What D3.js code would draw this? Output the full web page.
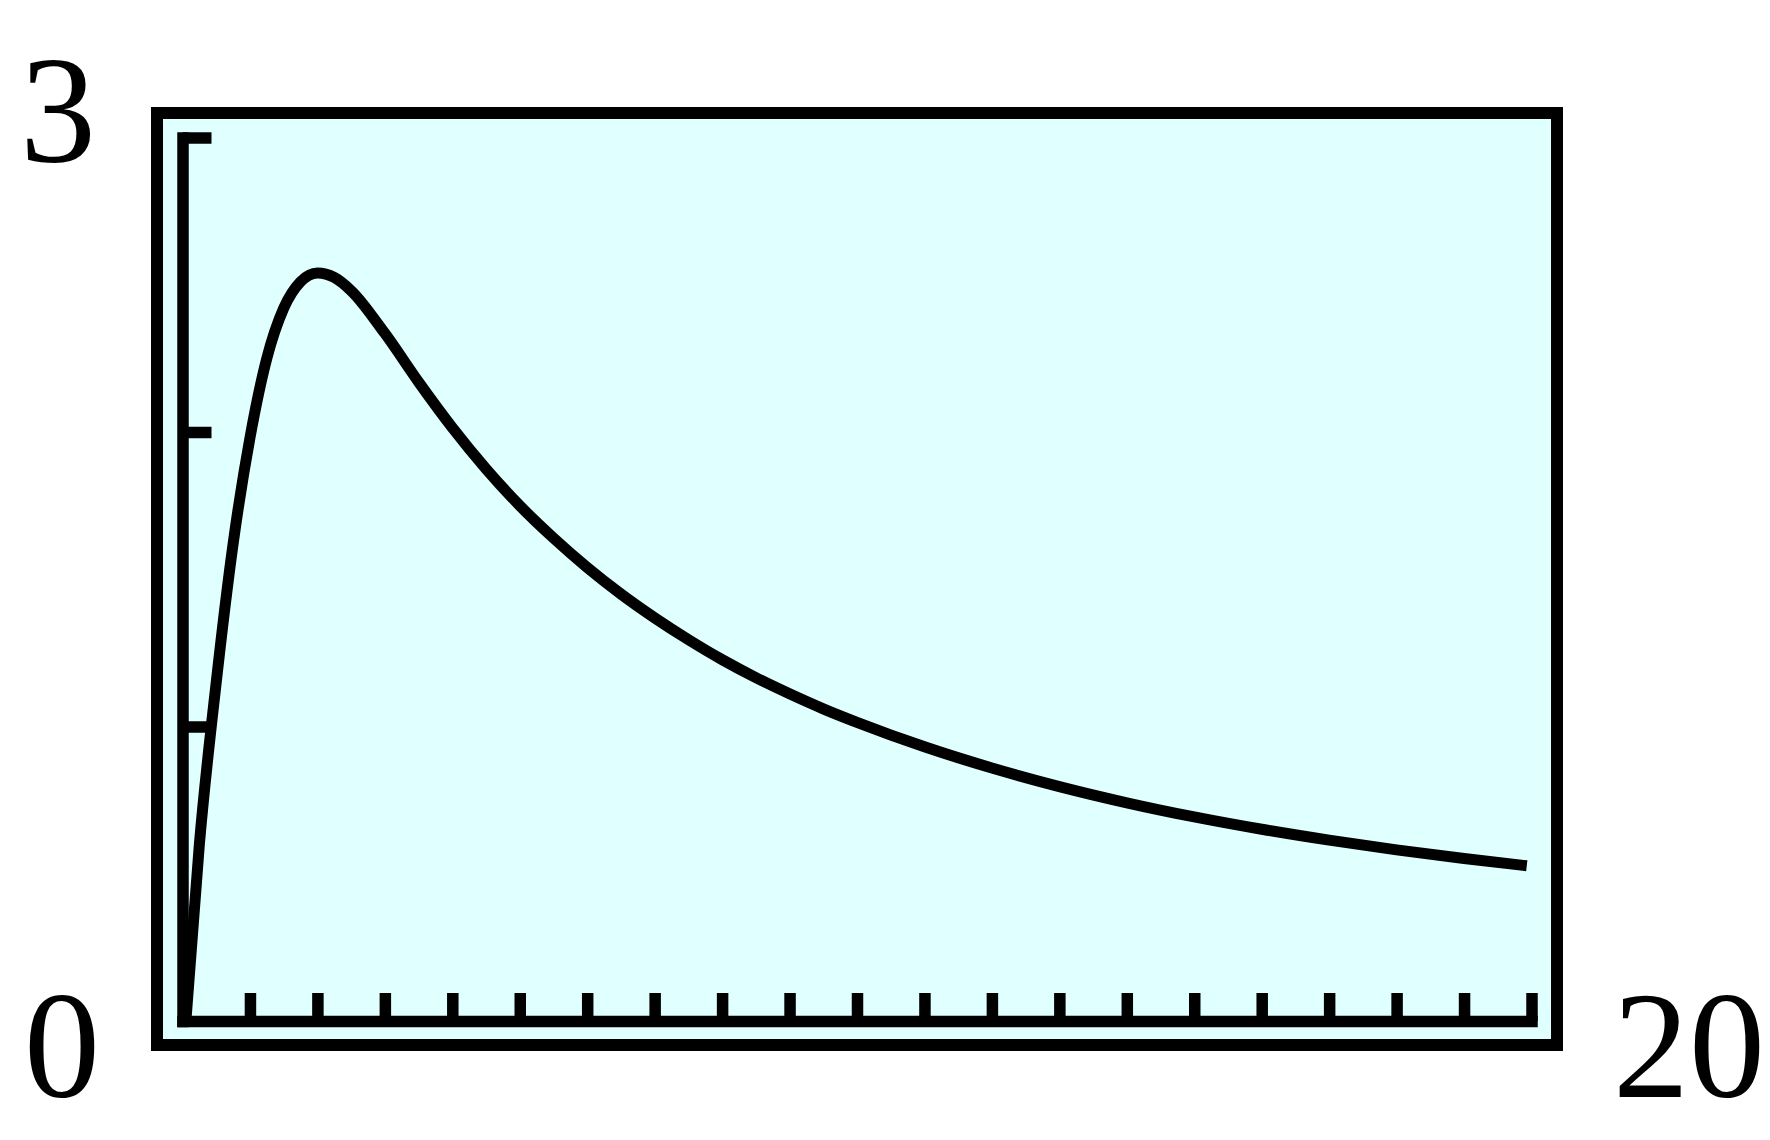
<!DOCTYPE html>
<html>
<head>
<meta charset="utf-8">
<script src="https://cdn.jsdelivr.net/npm/d3@7"></script>
<style>
  html, body { margin: 0; padding: 0; background: #ffffff; }
  svg { display: block; }
  text.corner { font-family: "Times New Roman", "Liberation Serif", Tinos, Times, "Nimbus Roman", "Nimbus Roman No9 L", FreeSerif, serif; fill: #000; }
</style>
</head>
<body>
<svg id="chart" width="1770" height="1140"></svg>
<script>
// ---- data ----
const xDomain = [0, 20];
const yDomain = [0, 3];
const xTickValues = [1,2,3,4,5,6,7,8,9,10,11,12,13,14,15,16,17,18,19,20];
const yTickValues = [1, 2, 3];
const cornerLabels = ["3", "0", "20"];   // y max, x/y min, x max
const curveX = [0.05, 0.25, 0.50, 0.75, 1.00, 1.25, 1.50, 1.75, 2.00, 2.25, 2.50, 3.00, 3.50, 4.00, 4.50, 5.00, 5.50, 6.00, 6.50, 7.00, 7.50, 8.00, 8.50, 9.00, 9.50, 10.00, 11.00, 12.00, 13.00, 14.00, 15.00, 16.00, 17.00, 18.00, 19.00, 19.93];
const curveY = [0.00, 0.60, 1.15, 1.62, 1.98, 2.25, 2.42, 2.51, 2.54, 2.525, 2.48, 2.335, 2.17, 2.015, 1.875, 1.75, 1.64, 1.54, 1.45, 1.369, 1.295, 1.227, 1.166, 1.111, 1.06, 1.014, 0.931, 0.859, 0.796, 0.741, 0.693, 0.651, 0.614, 0.581, 0.552, 0.527];

// ---- layout ----
const svg = d3.select("#chart");
const frame = { x: 157, y: 113, w: 1400, h: 932 };
const x = d3.scaleLinear().domain(xDomain).range([182.5, 1531.5]);
const y = d3.scaleLinear().domain(yDomain).range([1021, 137.5]);
const strokeW = 11.5;

// window frame
svg.append("rect")
  .attr("x", frame.x).attr("y", frame.y)
  .attr("width", frame.w).attr("height", frame.h)
  .attr("fill", "#e0ffff")
  .attr("stroke", "#000").attr("stroke-width", 12);

// y axis (ticks pointing right / inward)
const gy = svg.append("g")
  .attr("transform", `translate(${x(0)},0)`)
  .call(d3.axisRight(y).tickValues(yTickValues).tickSize(29).tickSizeOuter(0).tickFormat(""));
gy.select(".domain").attr("stroke", "#000").attr("stroke-width", strokeW).attr("stroke-linecap", "square");
gy.selectAll(".tick line").attr("stroke", "#000").attr("stroke-width", strokeW);

// x axis (ticks pointing up / inward)
const gx = svg.append("g")
  .attr("transform", `translate(0,${y(0)})`)
  .call(d3.axisTop(x).tickValues(xTickValues).tickSize(28).tickSizeOuter(0).tickFormat(""));
gx.select(".domain").attr("stroke", "#000").attr("stroke-width", strokeW).attr("stroke-linecap", "square");
gx.selectAll(".tick line").attr("stroke", "#000").attr("stroke-width", strokeW);

// curve
const pts = curveX.map((v, i) => [v, curveY[i]]);
svg.append("path")
  .datum(pts)
  .attr("fill", "none")
  .attr("stroke", "#000")
  .attr("stroke-width", 11)
  .attr("stroke-linecap", "butt")
  .attr("stroke-linejoin", "round")
  .attr("d", d3.line().x(d => x(d[0])).y(d => y(d[1])).curve(d3.curveMonotoneX));

// corner labels
const fs = 152;
svg.append("text").attr("class", "corner").attr("x", 58).attr("y", 162).attr("text-anchor", "middle")
  .attr("font-size", fs).text(cornerLabels[0]);
svg.append("text").attr("class", "corner").attr("x", 62).attr("y", 1097).attr("text-anchor", "middle")
  .attr("font-size", fs).text(cornerLabels[1]);
svg.append("text").attr("class", "corner").attr("x", 1689).attr("y", 1097).attr("text-anchor", "middle")
  .attr("font-size", fs).text(cornerLabels[2]);
</script>
</body>
</html>
